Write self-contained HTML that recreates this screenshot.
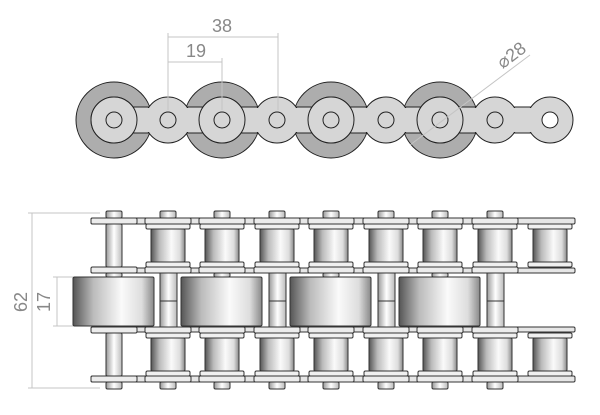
<!DOCTYPE html>
<html><head><meta charset="utf-8"><style>
html,body{margin:0;padding:0;background:#fff;width:600px;height:415px;overflow:hidden}
svg{display:block}
text{font-family:"Liberation Sans",sans-serif;fill:#888}
</style></head><body>
<svg id="s" width="600" height="415" viewBox="0 0 600 415" xmlns="http://www.w3.org/2000/svg">
<defs>
<linearGradient id="rg" x1="0" x2="1" y1="0" y2="0">
<stop offset="0" stop-color="#555"/><stop offset="0.25" stop-color="#bbb"/><stop offset="0.6" stop-color="#fafafa"/><stop offset="0.85" stop-color="#ddd"/><stop offset="1" stop-color="#888"/>
</linearGradient>
<linearGradient id="pg" x1="0" x2="1" y1="0" y2="0">
<stop offset="0" stop-color="#999"/><stop offset="0.5" stop-color="#fff"/><stop offset="1" stop-color="#bbb"/>
</linearGradient>
</defs>
<g id="top"></g>
<g id="bot"></g>
<g stroke="#c4c4c4" stroke-width="1" fill="none">
<line x1="168" y1="37" x2="278" y2="37"/><line x1="168" y1="62" x2="222" y2="62"/>
<line x1="168" y1="33" x2="168" y2="110"/><line x1="222" y1="58" x2="222" y2="110"/><line x1="278" y1="33" x2="278" y2="110"/>
<line x1="410" y1="145" x2="530" y2="55"/>
<line x1="32" y1="213" x2="32" y2="388"/><line x1="28" y1="213" x2="100" y2="213"/><line x1="28" y1="388" x2="100" y2="388"/>
<line x1="57" y1="277" x2="57" y2="326"/><line x1="53" y1="277" x2="73" y2="277"/><line x1="53" y1="326" x2="73" y2="326"/>
</g>
<text x="222" y="32" font-size="18" text-anchor="middle">38</text>
<text x="196" y="57" font-size="18" text-anchor="middle">19</text>
<text x="515" y="60" font-size="18" transform="rotate(-37 515 60)" text-anchor="middle">⌀28</text>
<text x="27" y="302" font-size="18" transform="rotate(-90 27 302)" text-anchor="middle">62</text>
<text x="50" y="302" font-size="18" transform="rotate(-90 50 302)" text-anchor="middle">17</text>
</svg>
<script>
var P=[114,168,222,277,331,386,440,495,550];
var t='';
[114,222,331,440].forEach(function(c){t+='<circle cx="'+c+'" cy="120" r="38" fill="#adadad" stroke="#222" stroke-width="1"/>';});
t+='<rect x="114" y="107" width="436" height="26" fill="#d6d6d6" stroke="#222" stroke-width="1"/>';
P.forEach(function(c){t+='<circle cx="'+c+'" cy="120" r="23" fill="#d6d6d6" stroke="#222" stroke-width="1"/>';});
t+='<rect x="114" y="108" width="436" height="24" fill="#d6d6d6"/>';
[114,222,331,440].forEach(function(c){t+='<circle cx="'+c+'" cy="120" r="23" fill="#d6d6d6" stroke="#222" stroke-width="1"/>';});
P.forEach(function(c){t+='<circle cx="'+c+'" cy="120" r="8" fill="'+(c==550?'#fff':'#d6d6d6')+'" stroke="#222" stroke-width="1"/>';});
document.getElementById('top').innerHTML=t;
var b='',S='stroke="#333" stroke-width="1"';
function strand(m){
 function R(x,y1,y2,w,f){var a=m(y1),c=m(y2);var y=Math.min(a,c),h=Math.abs(c-a);b+='<rect x="'+x+'" y="'+y+'" width="'+w+'" height="'+h+'" rx="1.5" fill="'+f+'" '+S+'/>';}
 R(91,218,224,484,'#e6e6e6');
 R(91,268,273,484,'#e6e6e6');
 P.forEach(function(c){
  if(c!=550){R(c-8,211,218,16,'url(#pg)');R(c-8,273,277,16,'url(#pg)');R(c-23,218,224,46,'#ececec');R(c-23,267,273,46,'#ececec');}
  if(c==114){R(c-8,224,267,16,'url(#pg)');return;}
  R(c-22,224,229,44,'#f0f0f0');R(c-22,262,267,44,'#f0f0f0');
  R(c-17,229,262,34,'url(#rg)');
 });
}
strand(function(y){return y;});
strand(function(y){return 600-y;});
[114,222,331,440].forEach(function(c){b+='<rect x="'+(c-41)+'" y="277" width="81" height="49" rx="1.5" fill="url(#rg)" '+S+'/>';});
[168,277,386,495].forEach(function(c){b+='<rect x="'+(c-8)+'" y="273" width="17" height="54" fill="url(#pg)" '+S+'/><line x1="'+(c-8)+'" y1="301" x2="'+(c+9)+'" y2="301" '+S+'/>';});
document.getElementById('bot').innerHTML=b;
</script>
</body></html>
